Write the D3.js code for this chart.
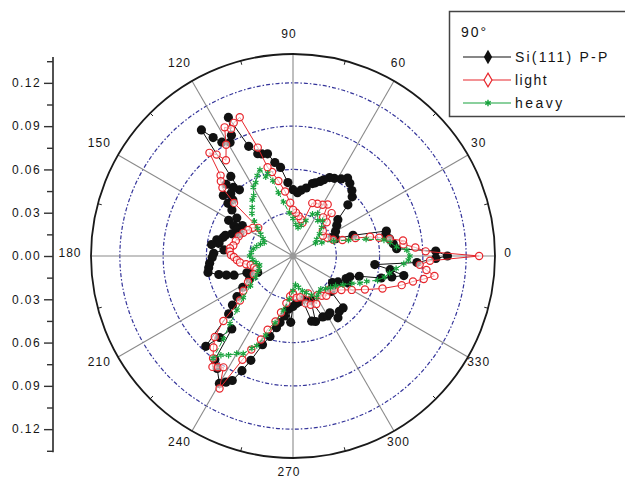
<!DOCTYPE html>
<html>
<head>
<meta charset="utf-8">
<script src="https://cdn.jsdelivr.net/npm/d3@7"></script>
<style>
  body { margin: 0; background: #fff; }
  text { font-family: "Liberation Sans", Arial, sans-serif; fill: #151515; }
</style>
</head>
<body>
<div id="wrapper"></div>
<script>

// 1. Data (angle in degrees, radial value)

const siAngles = [0, 2, 4, 7, 10, 13, 15, 19, 22, 25, 30, 35, 39, 43, 45, 48, 52, 55, 58, 62, 65, 68, 70, 73, 75, 79, 83, 86, 90, 94, 98, 101, 104, 107, 109, 112, 115, 117, 119, 122, 124, 126, 128, 129, 131, 133, 135, 137, 139, 141, 143, 146, 149, 151, 153, 155, 157, 160, 163, 165, 168, 170, 172, 175, 178, 181, 185, 188, 191, 194, 196, 198, 200, 203, 205, 208, 212, 216, 219, 222, 226, 228, 230, 233, 236, 240, 242, 244, 246, 248, 251, 254, 257, 259, 262, 265, 268, 270, 274, 278, 282, 286, 289, 292, 296, 300, 303, 306, 310, 314, 317, 320, 326, 330, 334, 337, 340, 343, 346, 348, 350, 352, 354, 357, 359];
const siValues = [0.107, 0.099, 0.072, 0.070, 0.068, 0.066, 0.067, 0.044, 0.032, 0.030, 0.034, 0.037, 0.040, 0.052, 0.058, 0.061, 0.064, 0.066, 0.063, 0.061, 0.060, 0.057, 0.055, 0.053, 0.052, 0.048, 0.046, 0.044, 0.046, 0.051, 0.062, 0.066, 0.073, 0.074, 0.075, 0.082, 0.106, 0.094, 0.090, 0.093, 0.099, 0.108, 0.070, 0.059, 0.063, 0.068, 0.061, 0.057, 0.064, 0.058, 0.053, 0.047, 0.041, 0.051, 0.046, 0.043, 0.040, 0.045, 0.049, 0.050, 0.054, 0.052, 0.057, 0.048, 0.055, 0.056, 0.058, 0.059, 0.060, 0.053, 0.048, 0.043, 0.034, 0.030, 0.027, 0.034, 0.041, 0.048, 0.054, 0.060, 0.087, 0.076, 0.066, 0.090, 0.094, 0.102, 0.099, 0.096, 0.087, 0.078, 0.065, 0.058, 0.051, 0.047, 0.042, 0.037, 0.046, 0.035, 0.033, 0.032, 0.031, 0.047, 0.048, 0.033, 0.047, 0.048, 0.047, 0.053, 0.050, 0.050, 0.036, 0.035, 0.033, 0.036, 0.042, 0.040, 0.042, 0.048, 0.063, 0.070, 0.078, 0.068, 0.057, 0.086, 0.099];

const lightAngles = [0, 2, 4, 6, 8, 10, 12, 14, 16, 18, 22, 28, 34, 40, 45, 48, 52, 56, 60, 65, 70, 74, 78, 82, 86, 90, 93, 97, 101, 104, 106, 108, 111, 114, 116, 118, 121, 125, 127, 129, 132, 134, 136, 138, 141, 145, 150, 155, 160, 165, 170, 173, 176, 179, 181, 184, 187, 190, 192, 196, 200, 205, 210, 215, 220, 223, 226, 229, 232, 234, 236, 238, 241, 244, 246, 249, 251, 255, 258, 262, 266, 270, 275, 280, 285, 290, 292, 296, 302, 306, 310, 316, 320, 325, 330, 335, 340, 345, 348, 350, 352, 354, 356, 358];
const lightValues = [0.129, 0.092, 0.085, 0.077, 0.077, 0.068, 0.061, 0.055, 0.045, 0.036, 0.030, 0.027, 0.025, 0.027, 0.033, 0.040, 0.034, 0.043, 0.041, 0.040, 0.039, 0.024, 0.026, 0.028, 0.030, 0.032, 0.037, 0.045, 0.053, 0.060, 0.064, 0.079, 0.103, 0.101, 0.098, 0.101, 0.090, 0.081, 0.088, 0.092, 0.075, 0.072, 0.068, 0.055, 0.031, 0.034, 0.036, 0.038, 0.040, 0.041, 0.042, 0.044, 0.044, 0.043, 0.041, 0.039, 0.037, 0.033, 0.030, 0.028, 0.027, 0.030, 0.036, 0.042, 0.048, 0.066, 0.078, 0.084, 0.090, 0.095, 0.093, 0.091, 0.105, 0.080, 0.071, 0.062, 0.054, 0.047, 0.040, 0.033, 0.028, 0.026, 0.029, 0.029, 0.034, 0.036, 0.028, 0.037, 0.032, 0.034, 0.036, 0.034, 0.037, 0.041, 0.047, 0.055, 0.066, 0.078, 0.085, 0.092, 0.099, 0.093, 0.088, 0.095];

const heavyAngles = [0, 3, 5, 8, 10, 13, 16, 20, 25, 30, 35, 40, 45, 50, 55, 60, 65, 70, 75, 80, 85, 90, 95, 100, 103, 105, 107, 109, 111, 114, 117, 120, 123, 126, 130, 134, 138, 142, 146, 150, 155, 160, 165, 170, 175, 180, 185, 190, 195, 200, 205, 210, 215, 220, 224, 227, 230, 232, 234, 237, 240, 243, 246, 248, 251, 255, 260, 265, 270, 275, 280, 285, 290, 295, 300, 305, 310, 315, 320, 325, 330, 335, 338, 341, 344, 347, 350, 353, 356, 358];
const heavyValues = [0.081, 0.079, 0.072, 0.068, 0.064, 0.052, 0.040, 0.030, 0.022, 0.018, 0.020, 0.024, 0.028, 0.032, 0.030, 0.034, 0.032, 0.026, 0.022, 0.020, 0.022, 0.026, 0.030, 0.038, 0.045, 0.054, 0.060, 0.058, 0.064, 0.061, 0.057, 0.055, 0.050, 0.048, 0.044, 0.041, 0.036, 0.031, 0.027, 0.024, 0.022, 0.024, 0.026, 0.028, 0.029, 0.030, 0.028, 0.026, 0.024, 0.025, 0.027, 0.030, 0.036, 0.045, 0.054, 0.064, 0.075, 0.090, 0.085, 0.082, 0.078, 0.076, 0.070, 0.067, 0.058, 0.048, 0.038, 0.030, 0.024, 0.020, 0.022, 0.025, 0.027, 0.030, 0.033, 0.031, 0.030, 0.032, 0.034, 0.036, 0.040, 0.045, 0.050, 0.054, 0.061, 0.065, 0.068, 0.072, 0.077, 0.080];

const ringValues = [0.03, 0.06, 0.09, 0.12];
const radialMax = 0.14;
const spokeAngles = [0, 30, 60, 90, 120, 150, 180, 210, 240, 270, 300, 330];
const minorSpokeAngles = [15, 45, 75, 105, 135, 165, 195, 225, 255, 285, 315, 345];
const axisTicks = [-0.12, -0.09, -0.06, -0.03, 0, 0.03, 0.06, 0.09, 0.12];
const axisMinorTicks = [-0.135, -0.105, -0.075, -0.045, -0.015, 0.015, 0.045, 0.075, 0.105, 0.135];

const seriesNames = ["Si(111) P-P", "light", "heavy"];
const legendTitle = "90°";

// 2. Dimensions

const dimensions = {
  width: 625,
  height: 480,
  centerX: 293,
  centerY: 256,
  radius: 202,
  labelRadius: 219,
};

// 3. Canvas

const wrapper = d3.select("#wrapper")
  .append("svg")
  .attr("width", dimensions.width)
  .attr("height", dimensions.height);

const bounds = wrapper.append("g")
  .attr("transform", `translate(${dimensions.centerX},${dimensions.centerY})`);

// 4. Scales

const radiusScale = d3.scaleLinear()
  .domain([0, radialMax])
  .range([0, dimensions.radius]);

const toRad = deg => deg * Math.PI / 180;
// math angle (counter-clockwise from +x) -> screen coords
const polarXY = (deg, r) => [
  Math.cos(toRad(deg)) * r,
  -Math.sin(toRad(deg)) * r,
];

const yScale = d3.scaleLinear()
  .domain([-radialMax, radialMax])
  .range([dimensions.centerY + dimensions.radius, dimensions.centerY - dimensions.radius]);

// 5. Peripherals

const grid = bounds.append("g");

ringValues.forEach(v => {
  grid.append("circle")
    .attr("r", radiusScale(v))
    .attr("fill", "none")
    .attr("stroke", "#34349a")
    .attr("stroke-width", 1.2)
    .attr("stroke-dasharray", "4 2 1.5 2");
});

spokeAngles.forEach(a => {
  const [x, y] = polarXY(a, dimensions.radius);
  grid.append("line")
    .attr("x2", x)
    .attr("y2", y)
    .attr("stroke", "#8a8a8a")
    .attr("stroke-width", 1.1);

  // labels sit a little up-left of the true radial position, like the original
  const [lx, ly] = polarXY(a, dimensions.labelRadius);
  grid.append("text")
    .attr("x", lx - 4)
    .attr("y", ly - 3.5)
    .attr("dy", "0.35em")
    .attr("text-anchor", "middle")
    .style("font-size", "12px")
    .style("letter-spacing", "1px")
    .text(a);
});

minorSpokeAngles.forEach(a => {
  const [x1, y1] = polarXY(a, dimensions.radius - 4);
  const [x2, y2] = polarXY(a, dimensions.radius);
  grid.append("line")
    .attr("x1", x1).attr("y1", y1)
    .attr("x2", x2).attr("y2", y2)
    .attr("stroke", "#222")
    .attr("stroke-width", 1);
});

grid.append("circle")
  .attr("r", dimensions.radius)
  .attr("fill", "none")
  .attr("stroke", "#1a1a1a")
  .attr("stroke-width", 1.8);

// left radial axis
const axisX = 53;
const leftAxis = wrapper.append("g")
  .attr("transform", `translate(${axisX},0)`)
  .call(d3.axisLeft(yScale)
    .tickValues(axisTicks)
    .tickSize(9)
    .tickPadding(3)
    .tickFormat(d => Math.abs(d).toFixed(2)));
leftAxis.select(".domain").remove();
leftAxis.selectAll("text")
  .style("font-size", "12px")
  .style("letter-spacing", "1.4px")
  .style("font-family", "'Liberation Sans', Arial, sans-serif")
  .attr("fill", "#151515");
leftAxis.selectAll("line").attr("stroke", "#333").attr("stroke-width", 1.4);

const leftMinor = wrapper.append("g")
  .attr("transform", `translate(${axisX},0)`)
  .call(d3.axisLeft(yScale).tickValues(axisMinorTicks).tickSize(6).tickFormat(""));
leftMinor.select(".domain").remove();
leftMinor.selectAll("line").attr("stroke", "#333").attr("stroke-width", 1.4);

wrapper.append("line")
  .attr("x1", axisX).attr("x2", axisX)
  .attr("y1", yScale(0.138))
  .attr("y2", yScale(-0.136))
  .attr("stroke", "#333")
  .attr("stroke-width", 1.7);

// 6. Data

const lineGenerator = d3.lineRadial()
  .angle(d => Math.PI / 2 - toRad(d[0]))
  .radius(d => radiusScale(d[1]))
  .curve(d3.curveLinearClosed);

const series = [
  { name: seriesNames[0], points: d3.zip(siAngles, siValues), color: "#111" },
  { name: seriesNames[1], points: d3.zip(lightAngles, lightValues), color: "#e8262c" },
  { name: seriesNames[2], points: d3.zip(heavyAngles, heavyValues), color: "#17a23c" },
];

series.forEach((s, i) => {
  const g = bounds.append("g");
  g.append("path")
    .attr("d", lineGenerator(s.points))
    .attr("fill", "none")
    .attr("stroke", s.color)
    .attr("stroke-width", 1)
    .attr("stroke-dasharray", i === 2 ? "5 2" : null);

  const marks = g.selectAll("g.m")
    .data(s.points)
    .join("g")
    .attr("class", "m")
    .attr("transform", d => {
      const [x, y] = polarXY(d[0], radiusScale(d[1]));
      return `translate(${x},${y})`;
    });

  if (i === 0) {
    marks.append("circle").attr("r", 4.6).attr("fill", s.color);
  } else if (i === 1) {
    marks.append("circle").attr("r", 3.6).attr("fill", "#fff")
      .attr("fill-opacity", 0.6)
      .attr("stroke", s.color).attr("stroke-width", 1.2);
  } else {
    marks.append("path")
      .attr("d", d3.symbol().type(d3.symbolAsterisk).size(28))
      .attr("fill", "none")
      .attr("stroke", s.color)
      .attr("stroke-width", 1.2);
  }
});

bounds.append("circle")
  .attr("r", 3.5)
  .attr("fill", "#999");

// 7. Legend

const legend = wrapper.append("g");
legend.append("rect")
  .attr("x", 449.5).attr("y", 11.5)
  .attr("width", 180).attr("height", 105)
  .attr("fill", "#fff")
  .attr("stroke", "#444")
  .attr("stroke-width", 1.5);

legend.append("text")
  .attr("x", 461).attr("y", 37)
  .style("font-size", "14px")
  .style("letter-spacing", "2px")
  .text(legendTitle);

const legendSpacing = [2.2, 1.5, 2.5];
series.forEach((s, i) => {
  const y = 57 + i * 23;
  legend.append("line")
    .attr("x1", 463).attr("x2", 511)
    .attr("y1", y).attr("y2", y)
    .attr("stroke", s.color)
    .attr("stroke-width", 1.2);
  const sym = legend.append("path")
    .attr("transform", `translate(488,${y})`);
  if (i === 0) {
    sym.attr("d", d3.symbol().type(d3.symbolDiamond).size(60)).attr("fill", s.color);
  } else if (i === 1) {
    sym.attr("d", d3.symbol().type(d3.symbolDiamond).size(55))
      .attr("fill", "#fff").attr("stroke", s.color).attr("stroke-width", 1.2);
  } else {
    sym.attr("d", d3.symbol().type(d3.symbolAsterisk).size(28))
      .attr("fill", "none").attr("stroke", s.color).attr("stroke-width", 1.4);
  }
  legend.append("text")
    .attr("x", 515).attr("y", y)
    .attr("dy", "0.36em")
    .style("font-size", "14px")
    .style("letter-spacing", `${legendSpacing[i]}px`)
    .text(s.name);
});

</script>
</body>
</html>
